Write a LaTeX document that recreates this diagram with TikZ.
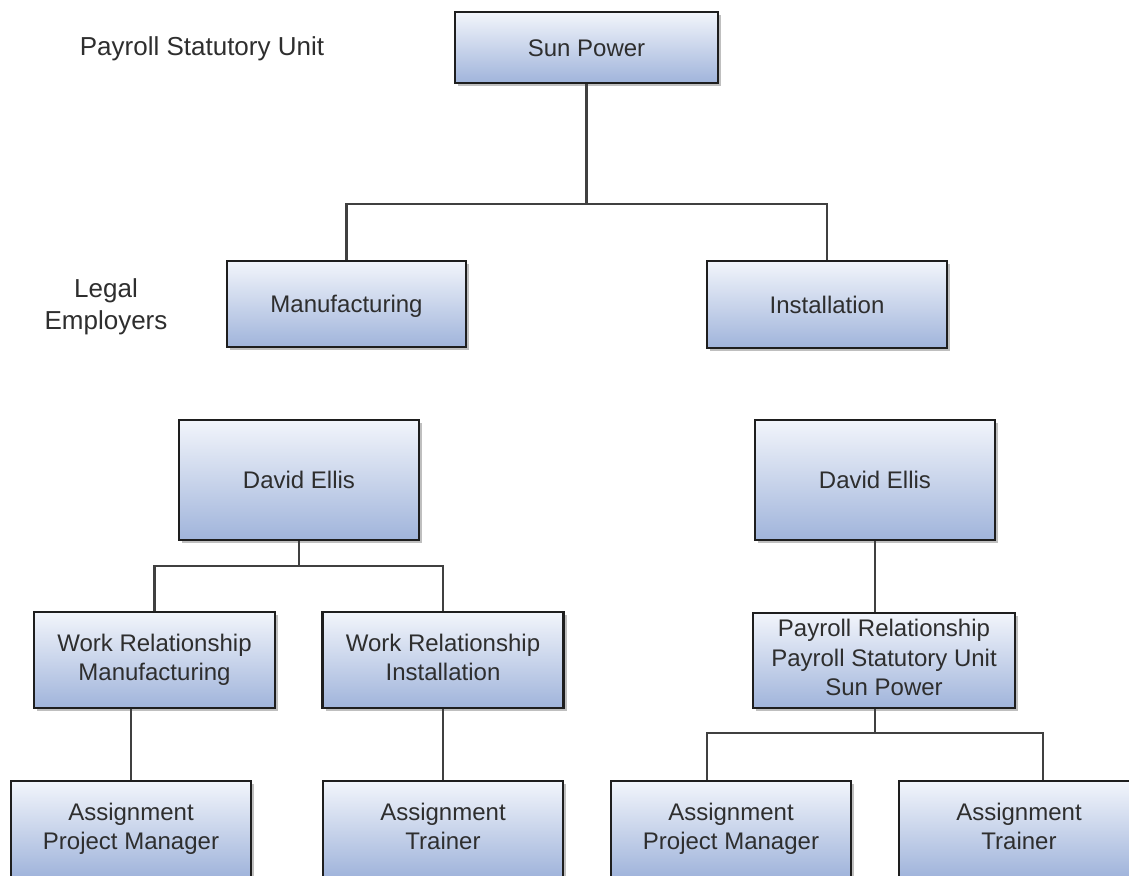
\documentclass[tikz,border=0pt]{standalone}
\usepackage{fontspec}
\setmainfont{Liberation Sans}
\usetikzlibrary{shadows}
\definecolor{boxtop}{HTML}{F2F5FB}
\definecolor{boxbot}{HTML}{A0B4DB}
\definecolor{txt}{HTML}{2E2E2E}
\definecolor{edge}{HTML}{1E1E1E}
\definecolor{conncol}{HTML}{404040}
\newcommand\boxstrut{\rule[-5.85pt]{0pt}{29.5pt}}
\tikzset{
  orgbox/.style={draw=edge, line width=2.2pt, top color=boxtop, bottom color=boxbot,
    text=txt, align=center, inner sep=0pt, font=\fontsize{24}{29.5}\selectfont,
    execute at begin node=\boxstrut, execute at end node=\boxstrut,
    drop shadow={shadow xshift=3pt, shadow yshift=-3pt, fill=black!45, opacity=.55}},
  lbl/.style={text=txt, align=center, inner sep=0pt, font=\fontsize{26}{32}\selectfont,
    execute at begin node=\strut, execute at end node=\strut},
  conn/.style={draw=conncol, line width=2.2pt}
}
\begin{document}
\begin{tikzpicture}[x=1pt,y=-1pt]
\useasboundingbox[fill=white] (0,0) rectangle (1129,875);
% labels
\node[lbl] (psu) at (202,49) {Payroll Statutory Unit};
\node[lbl] (le) at (106,309) {Legal\\Employers};
% boxes
\node[orgbox, minimum width=263pt, minimum height=71pt] (SP) at (586.5,47.5) {Sun Power};
\node[orgbox, minimum width=239pt, minimum height=86pt] (MFG) at (346.5,304) {Manufacturing};
\node[orgbox, minimum width=240pt, minimum height=87pt] (INS) at (827,304.5) {Installation};
\node[orgbox, minimum width=240pt, minimum height=120pt] (DEL) at (299,480) {David Ellis};
\node[orgbox, minimum width=240pt, minimum height=120pt] (DER) at (875,480) {David Ellis};
\node[orgbox, minimum width=241pt, minimum height=96pt] (WRM) at (154.5,660) {Work Relationship\\Manufacturing};
\node[orgbox, minimum width=241pt, minimum height=96pt] (WRI) at (443,660) {Work Relationship\\Installation};
\node[orgbox, minimum width=262pt, minimum height=95pt] (PR) at (884,660.5) {Payroll Relationship\\Payroll Statutory Unit\\Sun Power};
\node[orgbox, minimum width=240pt, minimum height=96pt] (APML) at (131,829) {Assignment\\Project Manager};
\node[orgbox, minimum width=240pt, minimum height=96pt] (ATL) at (443,829) {Assignment\\Trainer};
\node[orgbox, minimum width=240pt, minimum height=96pt] (APMR) at (731,829) {Assignment\\Project Manager};
\node[orgbox, minimum width=240pt, minimum height=96pt] (ATR) at (1019,829) {Assignment\\Trainer};
% junctions
\coordinate (j1) at (586.5,204);
\coordinate (j2) at (299,566);
\coordinate (j3) at (875,733);
% connectors
\draw[conn] (SP.south) -- (j1);
\draw[conn] (j1) -| (MFG.north);
\draw[conn] (j1) -| (INS.north);
\draw[conn] (DEL.south) -- (j2);
\draw[conn] (j2) -| (WRM.north);
\draw[conn] (j2) -| (WRI.north);
\draw[conn] (DER.south) -- (DER.south |- PR.north);
\draw[conn] (j3 |- PR.south) -- (j3);
\draw[conn] (j3) -| ([xshift=-24pt]APMR.north);
\draw[conn] (j3) -| ([xshift=24pt]ATR.north);
\draw[conn] (APML.north |- WRM.south) -- (APML.north);
\draw[conn] (WRI.south) -- (ATL.north);
\end{tikzpicture}
\end{document}
